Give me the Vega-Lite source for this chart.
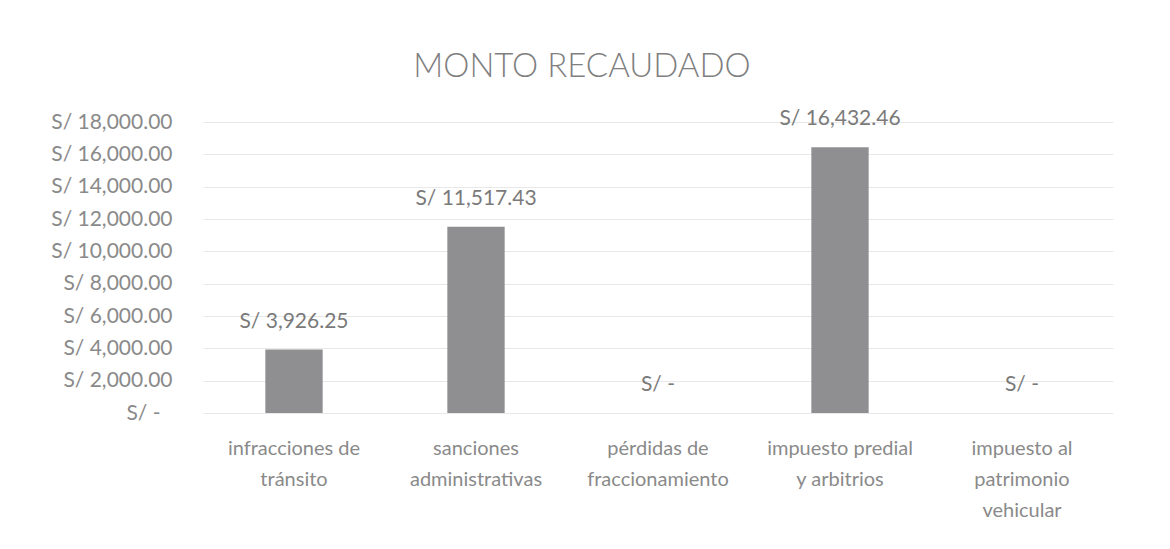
{
  "$schema": "https://vega.github.io/schema/vega-lite/v6.json",
  "width": 910,
  "height": 291,
  "autosize": {"type": "none"},
  "padding": {"left": 203, "top": 122, "right": 57, "bottom": 136},
  "background": "white",
  "title": {
    "text": "MONTO RECAUDADO",
    "font": "Lato",
    "fontSize": 33,
    "fontWeight": 300,
    "color": "#7f7f7f",
    "anchor": "middle",
    "offset": 24,
    "dx": -76
  },
  "config": {"view": {"stroke": null}, "font": "Lato"},
  "data": {
    "values": [
      {"concepto": "infracciones de tránsito", "monto": 3926.25},
      {"concepto": "sanciones administrativas", "monto": 11517.43},
      {"concepto": "pérdidas de fraccionamiento", "monto": 0},
      {"concepto": "impuesto predial y arbitrios", "monto": 16432.46},
      {"concepto": "impuesto al patrimonio vehicular", "monto": 0}
    ]
  },
  "transform": [
    {"calculate": "datum.monto == 0 ? 'S/ -' : 'S/ ' + format(datum.monto, ',.2f')", "as": "etiqueta"}
  ],
  "encoding": {
    "x": {
      "field": "concepto",
      "type": "nominal",
      "sort": null,
      "scale": {"paddingInner": 0.685, "paddingOuter": 0.3425},
      "axis": {
        "title": null,
        "labelAngle": 0,
        "domain": false,
        "ticks": false,
        "labelPadding": 25,
        "labelFont": "Lato",
        "labelFontSize": 20,
        "labelLineHeight": 31,
        "labelColor": "#8a8a8a",
        "labelLimit": 400,
        "labelOverlap": false,
        "labelExpr": "datum.label == 'infracciones de tránsito' ? ['infracciones de', 'tránsito'] : datum.label == 'sanciones administrativas' ? ['sanciones', 'administrativas'] : datum.label == 'pérdidas de fraccionamiento' ? ['pérdidas de', 'fraccionamiento'] : datum.label == 'impuesto predial y arbitrios' ? ['impuesto predial', 'y arbitrios'] : ['impuesto al', 'patrimonio', 'vehicular']"
      }
    },
    "y": {
      "field": "monto",
      "type": "quantitative",
      "scale": {"domain": [0, 18000], "nice": false},
      "axis": {
        "title": null,
        "tickCount": 9,
        "labelExpr": "datum.value == 0 ? 'S/ -' : 'S/ ' + format(datum.value, ',.2f')",
        "labelOverlap": false,
        "labelBound": false,
        "labelFlush": false,
        "domain": false,
        "ticks": false,
        "labelPadding": {"condition": {"test": "datum.value == 0", "value": 43}, "value": 31},
        "labelFont": "Lato",
        "labelFontSize": 21,
        "labelColor": "#8a8a8a",
        "grid": true,
        "gridColor": "#e8e8e8",
        "gridWidth": 1
      }
    }
  },
  "layer": [
    {
      "mark": {"type": "bar", "color": "#8f8f92"}
    },
    {
      "mark": {"type": "text", "font": "Lato", "fontSize": 21, "color": "#7a7a7a", "baseline": "middle", "dy": -28},
      "encoding": {
        "text": {"field": "etiqueta"}
      }
    }
  ]
}
